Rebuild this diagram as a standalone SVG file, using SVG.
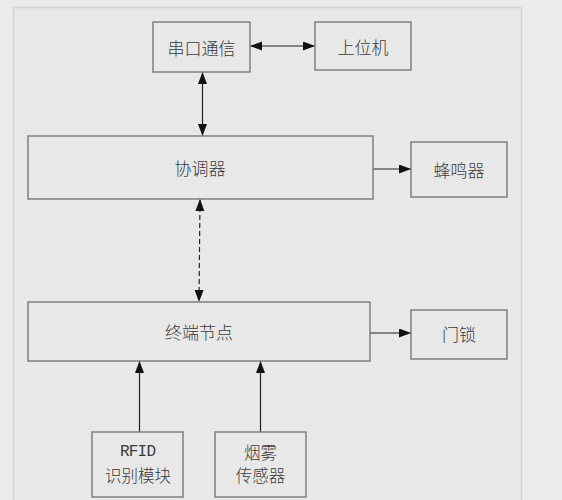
<svg xmlns="http://www.w3.org/2000/svg" width="562" height="500" viewBox="0 0 562 500">
<style>
.box{fill:#e8e8e8;stroke:#7f7f7f;stroke-width:1.5}
.t{font-family:"Noto Sans CJK SC","Noto Sans",sans-serif;font-size:17px;font-weight:300;fill:#3a3a3a;text-anchor:middle;dominant-baseline:central}
.s{font-size:16.5px}
.m{font-family:"Liberation Mono",monospace;font-size:16px;font-weight:400}
.c{stroke:#222;stroke-width:1.2;fill:none}
.d{stroke-dasharray:5,3}
</style>
<defs>
<marker id="ah" markerUnits="userSpaceOnUse" markerWidth="12" markerHeight="10" refX="12" refY="4.5" orient="auto-start-reverse">
<path d="M0,0 L12,4.5 L0,9 z" fill="#111"/>
</marker>
</defs>
<rect x="0" y="0" width="562" height="500" fill="#ebebeb"/>
<rect x="13.5" y="7.5" width="508" height="500" fill="#e8e8e8" stroke="#d4d4d4" stroke-width="1.5"/>
<g id="connectors">
<line class="c" x1="250" y1="46" x2="315" y2="46" marker-start="url(#ah)" marker-end="url(#ah)"/>
<line class="c" x1="202.5" y1="72" x2="202.5" y2="136" marker-start="url(#ah)" marker-end="url(#ah)"/>
<line class="c" x1="373" y1="169" x2="411" y2="169" marker-end="url(#ah)"/>
<line class="c d" x1="200" y1="199" x2="199" y2="302" marker-start="url(#ah)" marker-end="url(#ah)"/>
<line class="c" x1="370" y1="333" x2="411" y2="333" marker-end="url(#ah)"/>
<line class="c" x1="139.5" y1="432" x2="139.5" y2="361" marker-end="url(#ah)"/>
<line class="c" x1="260.5" y1="432" x2="260.5" y2="361" marker-end="url(#ah)"/>
</g>
<g id="serial"><rect class="box" x="153" y="22" width="97" height="50"/><text class="t" x="201.5" y="47">串口通信</text></g>
<g id="host"><rect class="box" x="315" y="22" width="96" height="48"/><text class="t" x="363" y="46">上位机</text></g>
<g id="coordinator"><rect class="box" x="28" y="136" width="345" height="63"/><text class="t" x="200" y="167">协调器</text></g>
<g id="buzzer"><rect class="box" x="411" y="142" width="96" height="55"/><text class="t" x="459" y="169">蜂鸣器</text></g>
<g id="terminal"><rect class="box" x="28" y="302" width="342" height="59"/><text class="t" x="199" y="331">终端节点</text></g>
<g id="lock"><rect class="box" x="411" y="310" width="96" height="49"/><text class="t" x="459" y="333">门锁</text></g>
<g id="rfid"><rect class="box" x="92" y="432" width="91" height="65"/><text class="t m" x="138" y="452" textLength="36">RFID</text><text class="t s" x="138" y="475">识别模块</text></g>
<g id="smoke"><rect class="box" x="215" y="432" width="91" height="65"/><text class="t s" x="260.5" y="452">烟雾</text><text class="t s" x="260.5" y="475">传感器</text></g>
</svg>
